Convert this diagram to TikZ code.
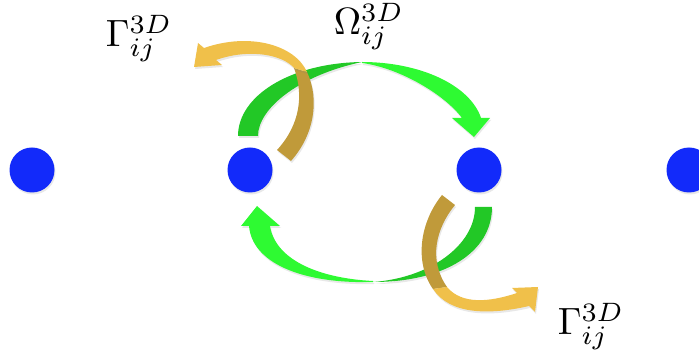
\documentclass[tikz,border=0pt]{standalone}
\usetikzlibrary{shadows}

\definecolor{siteblue}{RGB}{18,42,250}
\definecolor{greenback}{RGB}{34,200,38}
\definecolor{greenfront}{RGB}{46,250,50}
\definecolor{goldback}{RGB}{192,154,58}
\definecolor{goldfront}{RGB}{240,192,74}

\begin{document}
\begin{tikzpicture}[
      x=1pt, y=-1pt,
      soft/.style={drop shadow={shadow xshift=1pt, shadow yshift=-2pt,
        opacity=.18}},
      site/.style={circle, fill=siteblue, minimum size=45pt, inner sep=0pt, soft},
      coupling/.style={scale=3.8, inner sep=0pt, anchor=base west}
    ]
    \useasboundingbox (0,0) rectangle (699,355);

    % Sites of the chain
    \node[site] (s1) at (32,170) {};
    \node[site] (s2) at (250,170) {};
    \node[site] (s3) at (479,170) {};
    \node[site] (s4) at (689,170) {};

    % Omega ribbon, upper half (back, then front with head)
    \fill[greenback, soft] (238,136) .. controls (238,96) and (290,63) .. (362,62)
      .. controls (300,75) and (258,108) .. (258,136) -- cycle;
    \fill[greenfront, soft] (362,62) .. controls (420,62) and (470,85) .. (481,118)
      -- (490,118) -- (474,137) -- (452,118) -- (462,118)
      .. controls (445,95) and (400,68) .. (362,63) -- cycle;

    % Omega ribbon, lower half
    \fill[greenback, soft] (492,207) .. controls (492,252) and (445,282) .. (373,282)
      .. controls (430,278) and (475,245) .. (475,207) -- cycle;
    \fill[greenfront, soft] (373,282) .. controls (300,284) and (252,262) .. (249,226)
      -- (241,226) -- (257,206) -- (280,226) -- (270,226)
      .. controls (275,258) and (315,278) .. (373,281) -- cycle;

    % Gamma ribbon at s2
    \fill[goldback, soft] (277,150) -- (291,161) .. controls (314,135) and (320,100) .. (307,72)
      -- (294,68) .. controls (304,95) and (300,125) .. (277,150) -- cycle;
    \fill[goldfront, soft] (307,72) .. controls (295,45) and (250,32) .. (204,48)
      -- (198,43) -- (194,67) -- (222,65) -- (216,60)
      .. controls (250,48) and (283,55) .. (294,68) -- cycle;

    % Gamma ribbon at s3
    \fill[goldback, soft] (442,195) -- (455,205) .. controls (436,228) and (428,260) .. (447,287)
      -- (433,289) .. controls (414,262) and (420,222) .. (442,195) -- cycle;
    \fill[goldfront, soft] (433,289) .. controls (450,315) and (490,315) .. (529,306)
      -- (535,312) -- (538,287) -- (512,288) -- (517,293)
      .. controls (490,302) and (462,305) .. (447,287) -- cycle;

    % Labels
    \node[coupling] (gamL) at (105,47) {$\Gamma_{ij}^{3D}$};
    \node[coupling] (omg) at (333,35) {$\Omega_{ij}^{3D}$};
    \node[coupling] (gamR) at (557,335) {$\Gamma_{ij}^{3D}$};
  \end{tikzpicture}
\end{document}
